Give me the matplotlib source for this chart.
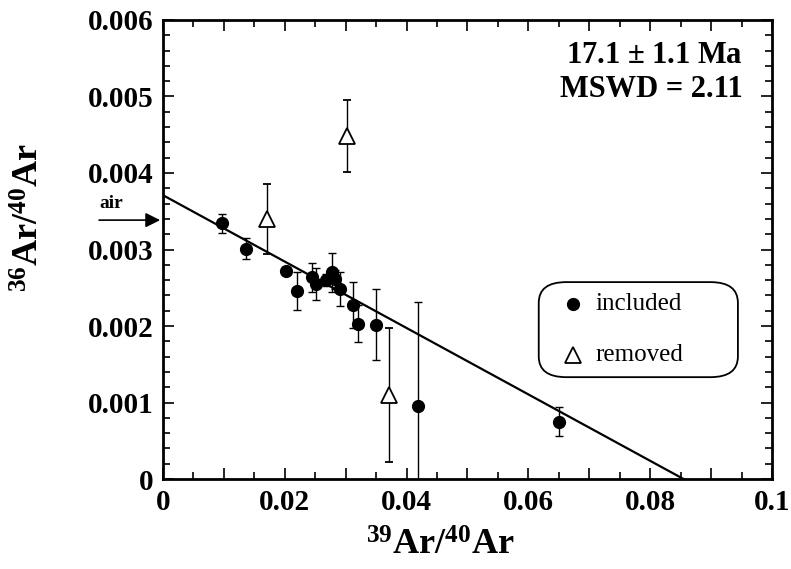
import matplotlib
matplotlib.use("Agg")
import matplotlib.pyplot as plt
import numpy as np
from matplotlib.patches import FancyBboxPatch

plt.rcParams['font.family'] = 'Liberation Serif'
plt.rcParams['font.weight'] = 'bold'
plt.rcParams['axes.labelweight'] = 'bold'
plt.rcParams['mathtext.fontset'] = 'custom'
plt.rcParams['mathtext.rm'] = 'Liberation Serif:bold'
plt.rcParams['mathtext.bf'] = 'Liberation Serif:bold'
plt.rcParams['mathtext.default'] = 'bf'

# included steps: 39Ar/40Ar, 36Ar/40Ar, 1-sigma on 36Ar/40Ar
inc_x = [0.0097, 0.0136, 0.0202, 0.0220, 0.0244, 0.0252, 0.0267, 0.0278, 0.0282,
         0.0291, 0.0312, 0.0321, 0.0350, 0.0418, 0.0651]
inc_y = [0.00334, 0.00301, 0.00272, 0.00246, 0.00264, 0.00255, 0.00260, 0.00270,
         0.00261, 0.00248, 0.00227, 0.00203, 0.00202, 0.00095, 0.00075]
inc_err = [0.00013, 0.00014, 0.00003, 0.00025, 0.00019, 0.00021, 0.00008, 0.00025,
           0.00012, 0.00022, 0.00030, 0.00024, 0.00046, 0.00137, 0.00019]

# removed steps
rem_x = [0.0171, 0.0303, 0.0371]
rem_y = [0.00340, 0.00448, 0.00110]
rem_err = [0.00046, 0.00047, 0.00088]

# isochron fit
intercept = 0.00371
x_intercept = 0.0855
air = 1 / 295.5

fig = plt.figure(figsize=(7.91, 5.69), dpi=100)
ax = fig.add_axes([0.206, 0.158, 0.770, 0.807])

fx = np.array([0, x_intercept])
ax.plot(fx, intercept - intercept / x_intercept * fx, color='black', lw=1.6, zorder=2)

ax.errorbar(inc_x, inc_y, yerr=inc_err, fmt='o', color='black', ms=8.5,
            ecolor='black', elinewidth=1, capsize=3, capthick=1, zorder=3)
ax.errorbar(rem_x, rem_y, yerr=rem_err, fmt='^', mfc='white', mec='black', mew=1.3,
            ms=11, ecolor='black', elinewidth=1, capsize=3, capthick=1, zorder=3)

ax.set_xlim(0, 0.1)
ax.set_ylim(0, 0.006)

xt = np.arange(0, 0.1001, 0.01)
ax.set_xticks(xt)
ax.set_xticklabels(['0', '', '0.02', '', '0.04', '', '0.06', '', '0.08', '', '0.1'])
ax.set_xticks(np.arange(0, 0.1001, 0.005), minor=True)
ax.set_yticks(np.arange(0, 0.00601, 0.001))
ax.set_yticklabels(['0', '0.001', '0.002', '0.003', '0.004', '0.005', '0.006'])
ax.set_yticks(np.arange(0, 0.00601, 0.0002), minor=True)
ax.tick_params(which='both', direction='in', top=True, right=True, labelsize=21, width=1.2)
ax.tick_params(which='major', length=8, pad=7)
ax.tick_params(which='minor', length=5)
for s in ax.spines.values():
    s.set_linewidth(2)

ax.set_xlabel('$^{39}$Ar/$^{40}$Ar', fontsize=26, fontweight='bold')
ax.set_ylabel('$^{36}$Ar/$^{40}$Ar', fontsize=26, fontweight='bold')
ax.xaxis.set_label_coords(0.455, -0.11)
ax.yaxis.set_label_coords(-0.19, 0.57)

ax.text(0.952, 0.955, '17.1 $\\pm$ 1.1 Ma', transform=ax.transAxes, ha='right', va='top', fontsize=22)
ax.text(0.952, 0.88, 'MSWD = 2.11', transform=ax.transAxes, ha='right', va='top', fontsize=22)

# air arrow
ax.annotate('', xy=(0, air), xycoords=('axes fraction', 'data'),
            xytext=(-48, 0), textcoords='offset points',
            arrowprops=dict(arrowstyle='-|>', color='black', lw=1.2, mutation_scale=22),
            annotation_clip=False)
ax.annotate('air', xy=(0, air), xycoords=('axes fraction', 'data'),
            xytext=(-37, 6), textcoords='offset points', ha='center', va='bottom',
            fontsize=14, annotation_clip=False)

# legend in a rounded box
box = FancyBboxPatch((0.617, 0.222), 0.327, 0.207, boxstyle='round,pad=0,rounding_size=0.045',
                     transform=ax.transAxes, fc='white', ec='black', lw=1.3, zorder=4)
ax.add_patch(box)
ax.plot([0.673], [0.381], 'o', color='black', ms=8.5, transform=ax.transAxes, zorder=5)
ax.plot([0.673], [0.27], '^', mfc='white', mec='black', mew=1.3, ms=11, transform=ax.transAxes, zorder=5)
ax.text(0.71, 0.381, 'included', transform=ax.transAxes, va='center', fontsize=18,
        fontweight='normal', zorder=5)
ax.text(0.71, 0.27, 'removed', transform=ax.transAxes, va='center', fontsize=18,
        fontweight='normal', zorder=5)

fig.savefig('out.png', dpi=100)
